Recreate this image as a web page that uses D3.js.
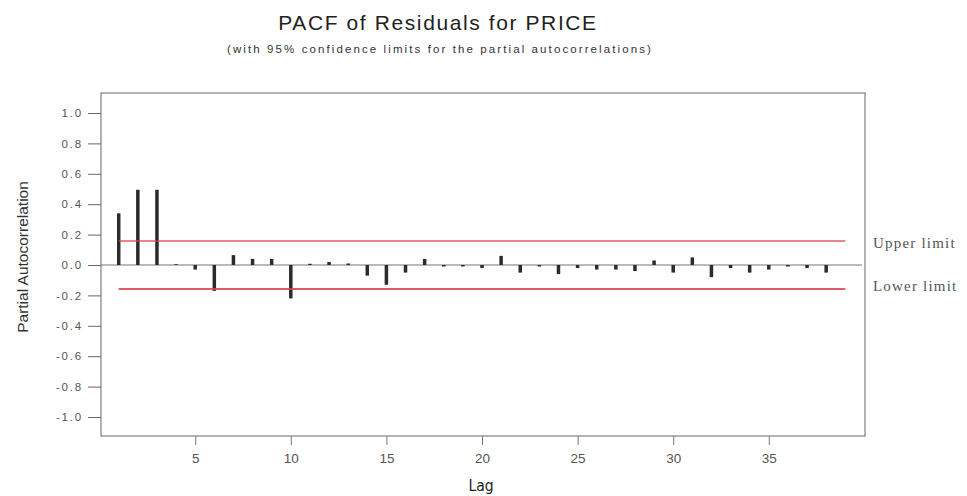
<!DOCTYPE html>
<html>
<head>
<meta charset="utf-8">
<script src="https://cdn.jsdelivr.net/npm/d3@7"></script>
<style>
  html, body { margin: 0; padding: 0; background: #fff; }
  svg { display: block; }
</style>
</head>
<body>
<svg id="chart" width="967" height="496"></svg>
<script>
// Partial autocorrelations of the PRICE residuals, lags 1..38
const lags = d3.range(1, 39);
const pacf = [
  0.34, 0.495, 0.495, 0.005, -0.03, -0.17, 0.065, 0.04, 0.04, -0.22,
  0.008, 0.02, 0.01, -0.07, -0.13, -0.05, 0.04, -0.01, -0.01, -0.02,
  0.06, -0.05, -0.01, -0.06, -0.02, -0.03, -0.03, -0.04, 0.03, -0.05,
  0.05, -0.08, -0.02, -0.05, -0.03, -0.01, -0.02, -0.05
];
// 95% confidence limits
const upperLimit = 0.158;
const lowerLimit = -0.158;
const limitSpan = [1, 39];
const yTicks = [1.0, 0.8, 0.6, 0.4, 0.2, 0.0, -0.2, -0.4, -0.6, -0.8, -1.0];
const xTicks = [5, 10, 15, 20, 25, 30, 35];

const svg = d3.select("#chart");
const frame = { left: 101, right: 865, top: 93, bottom: 436 };
const sans = "Liberation Sans, Arial, sans-serif";

const x = d3.scaleLinear().domain([0, 40]).range([99.6, 864.4]);
const y = d3.scaleLinear().domain([-1, 1]).range([417, 113]);

// Title and subtitle
svg.append("text")
  .attr("x", 438).attr("y", 30)
  .attr("text-anchor", "middle")
  .attr("font-family", sans)
  .attr("font-size", 21)
  .attr("letter-spacing", 1.6)
  .attr("fill", "#222")
  .text("PACF of Residuals for PRICE");
svg.append("text")
  .attr("x", 440).attr("y", 53)
  .attr("text-anchor", "middle")
  .attr("font-family", sans)
  .attr("font-size", 11.5)
  .attr("letter-spacing", 2.1)
  .attr("fill", "#333")
  .text("(with 95% confidence limits for the partial autocorrelations)");

// Plot frame
svg.append("rect")
  .attr("x", frame.left).attr("y", frame.top)
  .attr("width", frame.right - frame.left)
  .attr("height", frame.bottom - frame.top)
  .attr("fill", "none")
  .attr("stroke", "#666")
  .attr("stroke-width", 1);

// Y axis
const fmtY = (d) => d3.format(".1f")(d).replace("\u2212", "-");
const yAxis = d3.axisLeft(y)
  .tickValues(yTicks)
  .tickSize(13)
  .tickPadding(5)
  .tickFormat(fmtY);
const gy = svg.append("g")
  .attr("transform", `translate(${frame.left},0)`)
  .call(yAxis);
gy.select(".domain").remove();
gy.selectAll(".tick line").attr("stroke", "#666");
gy.selectAll(".tick text")
  .attr("font-family", sans)
  .attr("font-size", 11.5)
  .attr("letter-spacing", 1.8)
  .attr("fill", "#555");

// X axis
const xAxis = d3.axisBottom(x)
  .tickValues(xTicks)
  .tickSize(9)
  .tickPadding(8)
  .tickFormat(d3.format("d"));
const gx = svg.append("g")
  .attr("transform", `translate(0,${frame.bottom})`)
  .call(xAxis);
gx.select(".domain").remove();
gx.selectAll(".tick line").attr("stroke", "#777");
gx.selectAll(".tick text")
  .attr("font-family", "Liberation Sans Narrow, Liberation Sans, Arial, sans-serif")
  .attr("font-size", 13.5)
  .attr("fill", "#555");

// Axis titles
svg.append("text")
  .attr("transform", "translate(28,257) rotate(-90)")
  .attr("text-anchor", "middle")
  .attr("font-family", sans)
  .attr("font-size", 15.5)
  .attr("fill", "#333")
  .text("Partial Autocorrelation");
svg.append("text")
  .attr("x", 481).attr("y", 491)
  .attr("text-anchor", "middle")
  .attr("font-family", "DejaVu Sans Condensed, DejaVu Sans, sans-serif")
  .attr("font-size", 15.5)
  .attr("fill", "#222")
  .text("Lag");

// Zero baseline
svg.append("line")
  .attr("x1", frame.left).attr("x2", frame.right - 3)
  .attr("y1", y(0)).attr("y2", y(0))
  .attr("stroke", "#777")
  .attr("stroke-width", 1.2);

// PACF spikes
svg.append("g")
  .selectAll("line")
  .data(lags)
  .join("line")
  .attr("x1", (d) => x(d)).attr("x2", (d) => x(d))
  .attr("y1", y(0))
  .attr("y2", (d, i) => y(pacf[i]))
  .attr("stroke", "#2b2b2b")
  .attr("stroke-width", 3.5);

// Confidence limits
const limits = [
  { value: upperLimit, label: "Upper limit", width: 1.4, dy: 7 },
  { value: lowerLimit, label: "Lower limit", width: 2, dy: 2 }
];
svg.append("g")
  .selectAll("line")
  .data(limits)
  .join("line")
  .attr("x1", x(limitSpan[0])).attr("x2", x(limitSpan[1]))
  .attr("y1", (d) => y(d.value)).attr("y2", (d) => y(d.value))
  .attr("stroke", "#d9404c")
  .attr("stroke-opacity", 0.85)
  .attr("stroke-width", (d) => d.width);

svg.append("g")
  .selectAll("text")
  .data(limits)
  .join("text")
  .attr("x", 873)
  .attr("y", (d) => y(d.value) + d.dy)
  .attr("font-family", "Liberation Serif, Times New Roman, serif")
  .attr("font-size", 15)
  .attr("letter-spacing", 1.2)
  .attr("fill", "#555")
  .text((d) => d.label);
</script>
</body>
</html>
